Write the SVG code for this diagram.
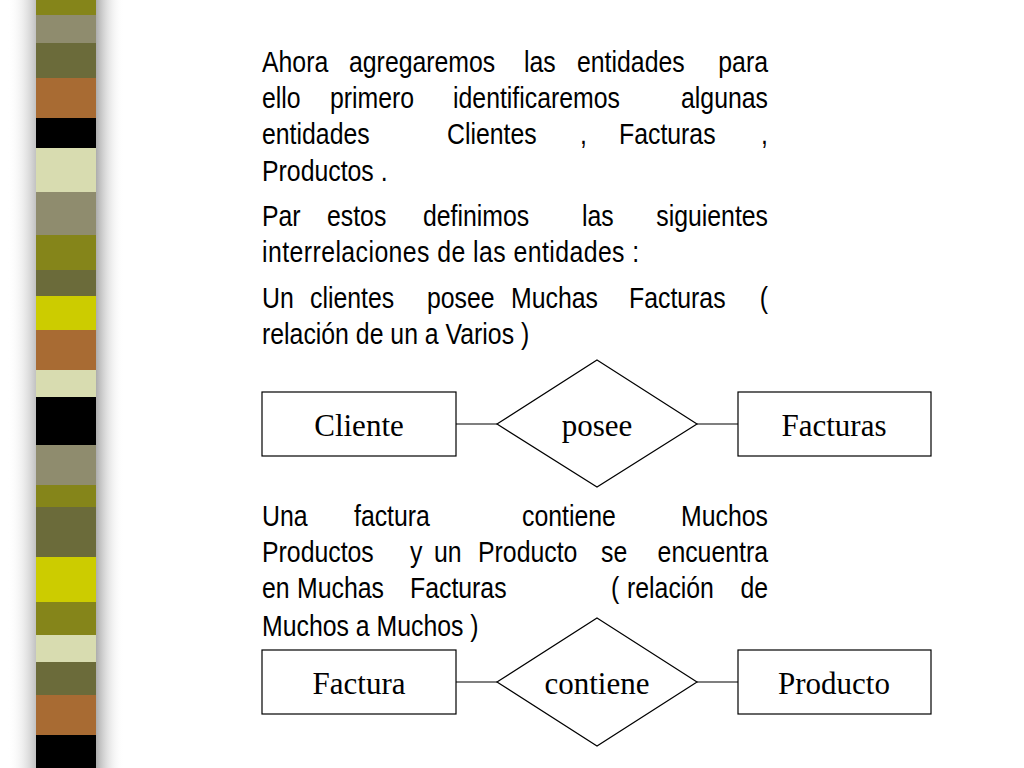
<svg xmlns="http://www.w3.org/2000/svg" width="1024" height="768" viewBox="0 0 1024 768">
<defs>
<linearGradient id="sh" x1="0" x2="1"><stop offset="0" stop-color="#888" stop-opacity="0.8"/><stop offset="1" stop-color="#fff" stop-opacity="0"/></linearGradient>
<linearGradient id="shl" x1="1" x2="0"><stop offset="0" stop-color="#999" stop-opacity="0.6"/><stop offset="1" stop-color="#fff" stop-opacity="0"/></linearGradient>
</defs>
<style>
.t{font-family:"Liberation Sans",Arial,sans-serif;font-size:27px;fill:#000}
.b{fill:#fff;stroke:#000;stroke-width:1.2}
.l{font-family:"Liberation Serif","Times New Roman",serif;font-size:31px;text-anchor:middle}
</style>
<rect width="1024" height="768" fill="#fff"/>
<g id="stripe">
<rect x="94" y="0" width="30" height="768" fill="url(#sh)"/>
<rect x="8" y="0" width="28" height="768" fill="url(#shl)"/>
<rect x="36" y="0" width="60" height="15" fill="#85851a"/>
<rect x="36" y="15" width="60" height="28" fill="#8f8c6e"/>
<rect x="36" y="43" width="60" height="35" fill="#6b6b3a"/>
<rect x="36" y="78" width="60" height="40" fill="#a86b33"/>
<rect x="36" y="118" width="60" height="30" fill="#000"/>
<rect x="36" y="148" width="60" height="44" fill="#d8dcb0"/>
<rect x="36" y="192" width="60" height="43" fill="#8f8c6e"/>
<rect x="36" y="235" width="60" height="35" fill="#85851a"/>
<rect x="36" y="270" width="60" height="26" fill="#6b6b3a"/>
<rect x="36" y="296" width="60" height="34" fill="#cccc00"/>
<rect x="36" y="330" width="60" height="40" fill="#a86b33"/>
<rect x="36" y="370" width="60" height="27" fill="#d8dcb0"/>
<rect x="36" y="397" width="60" height="48" fill="#000"/>
<rect x="36" y="445" width="60" height="40" fill="#8f8c6e"/>
<rect x="36" y="485" width="60" height="22" fill="#85851a"/>
<rect x="36" y="507" width="60" height="50" fill="#6b6b3a"/>
<rect x="36" y="557" width="60" height="45" fill="#cccc00"/>
<rect x="36" y="602" width="60" height="33" fill="#85851a"/>
<rect x="36" y="635" width="60" height="27" fill="#d8dcb0"/>
<rect x="36" y="662" width="60" height="33" fill="#6b6b3a"/>
<rect x="36" y="695" width="60" height="40" fill="#a86b33"/>
<rect x="36" y="735" width="60" height="33" fill="#000"/>
</g>
<g id="text" class="t">
<text transform="translate(262,72) scale(0.92,1.1)">Ahora</text>
<text transform="translate(349,72) scale(0.92,1.1)">agregaremos</text>
<text transform="translate(524,72) scale(0.92,1.1)">las</text>
<text transform="translate(577,72) scale(0.92,1.1)">entidades</text>
<text transform="translate(768,72) scale(0.92,1.1)" text-anchor="end">para</text>
<text transform="translate(262,108) scale(0.92,1.1)">ello</text>
<text transform="translate(330,108) scale(0.92,1.1)">primero</text>
<text transform="translate(453,108) scale(0.92,1.1)">identificaremos</text>
<text transform="translate(768,108) scale(0.92,1.1)" text-anchor="end">algunas</text>
<text transform="translate(262,144) scale(0.92,1.1)">entidades</text>
<text transform="translate(447,144) scale(0.92,1.1)">Clientes</text>
<text transform="translate(580,144) scale(0.92,1.1)">,</text>
<text transform="translate(619,144) scale(0.92,1.1)">Facturas</text>
<text transform="translate(768,144) scale(0.92,1.1)" text-anchor="end">,</text>
<text transform="translate(262,181) scale(0.92,1.1)">Productos .</text>
<text transform="translate(262,226) scale(0.92,1.1)">Par</text>
<text transform="translate(327,226) scale(0.92,1.1)">estos</text>
<text transform="translate(423,226) scale(0.92,1.1)">definimos</text>
<text transform="translate(582,226) scale(0.92,1.1)">las</text>
<text transform="translate(768,226) scale(0.92,1.1)" text-anchor="end">siguientes</text>
<text transform="translate(262,262) scale(0.92,1.1)" textLength="410" lengthAdjust="spacing">interrelaciones de las entidades :</text>
<text transform="translate(262,308) scale(0.92,1.1)">Un</text>
<text transform="translate(310,308) scale(0.92,1.1)">clientes</text>
<text transform="translate(427,308) scale(0.92,1.1)">posee</text>
<text transform="translate(511,308) scale(0.92,1.1)">Muchas</text>
<text transform="translate(629,308) scale(0.92,1.1)">Facturas</text>
<text transform="translate(768,308) scale(0.92,1.1)" text-anchor="end">(</text>
<text transform="translate(262,344) scale(0.92,1.1)">relación de un a Varios )</text>
<text transform="translate(262,526) scale(0.92,1.1)">Una</text>
<text transform="translate(354,526) scale(0.92,1.1)">factura</text>
<text transform="translate(522,526) scale(0.92,1.1)">contiene</text>
<text transform="translate(768,526) scale(0.92,1.1)" text-anchor="end">Muchos</text>
<text transform="translate(262,562) scale(0.92,1.1)">Productos</text>
<text transform="translate(410,562) scale(0.92,1.1)">y</text>
<text transform="translate(434,562) scale(0.92,1.1)">un</text>
<text transform="translate(478,562) scale(0.92,1.1)">Producto</text>
<text transform="translate(601,562) scale(0.92,1.1)">se</text>
<text transform="translate(768,562) scale(0.92,1.1)" text-anchor="end">encuentra</text>
<text transform="translate(262,598) scale(0.92,1.1)">en</text>
<text transform="translate(297,598) scale(0.92,1.1)">Muchas</text>
<text transform="translate(410,598) scale(0.92,1.1)">Facturas</text>
<text transform="translate(611,598) scale(0.92,1.1)">(</text>
<text transform="translate(627,598) scale(0.92,1.1)">relación</text>
<text transform="translate(768,598) scale(0.92,1.1)" text-anchor="end">de</text>
<text transform="translate(262,636) scale(0.92,1.1)">Muchos a Muchos )</text>
</g>
<g id="connectors" stroke="#000" stroke-width="1.2">
<line x1="456" y1="424" x2="497" y2="424"/><line x1="697" y1="424" x2="738" y2="424"/>
<line x1="456" y1="682" x2="497" y2="682"/><line x1="697" y1="682" x2="738" y2="682"/>
</g>
<g id="cliente"><rect class="b" x="262" y="392" width="194" height="64"/><text class="l" x="359" y="436">Cliente</text></g>
<g id="posee"><polygon class="b" points="597,360 697,424 597,487 497,424"/><text class="l" x="597" y="436">posee</text></g>
<g id="facturas"><rect class="b" x="738" y="392" width="193" height="64"/><text class="l" x="834" y="436">Facturas</text></g>
<g id="factura"><rect class="b" x="262" y="650" width="194" height="64"/><text class="l" x="359" y="694">Factura</text></g>
<g id="contiene"><polygon class="b" points="597,618 697,682 597,746 497,682"/><text class="l" x="597" y="694">contiene</text></g>
<g id="producto"><rect class="b" x="738" y="650" width="193" height="64"/><text class="l" x="834" y="694">Producto</text></g>
</svg>
